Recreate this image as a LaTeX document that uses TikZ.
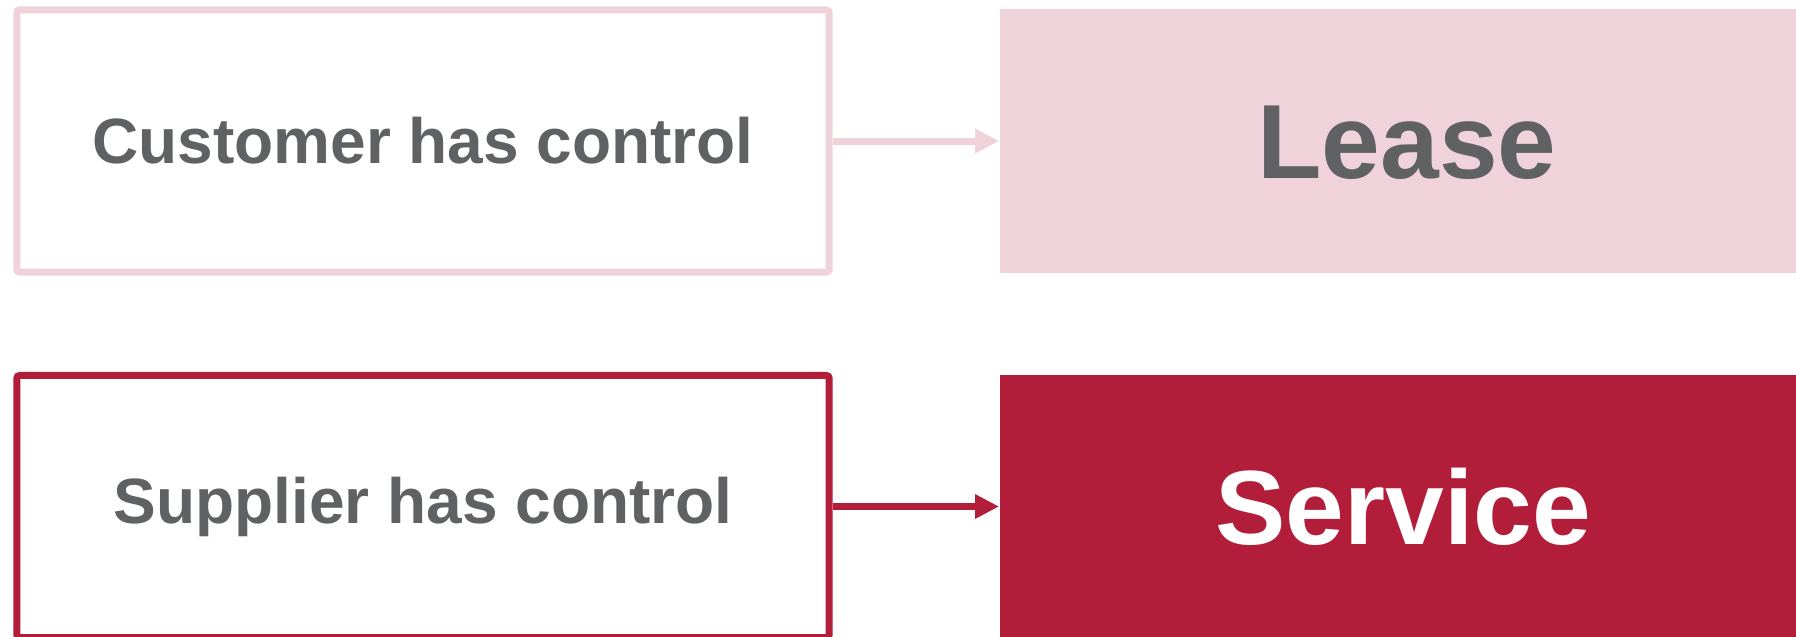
\documentclass[tikz,border=0pt]{standalone}
\usepackage{fontspec}
\setmainfont{Liberation Sans}
\usetikzlibrary{arrows.meta}
\definecolor{leasepink}{RGB}{240,211,218}
\definecolor{servicered}{RGB}{178,30,58}
\definecolor{textgrey}{RGB}{96,97,99}

\begin{document}
\begin{tikzpicture}[x=0.01cm, y=-0.01cm,
  ctrlbox/.style = {draw, line width=0.07cm, rounded corners=0.03cm, fill=white,
    minimum width=8.12cm, minimum height=2.62cm, inner sep=0pt,
    text=textgrey, font=\fontsize{18.2}{22}\selectfont\bfseries},
  resultbox/.style = {minimum width=8.14cm, minimum height=2.63cm, inner sep=0pt,
    text height=21.5pt, text depth=0pt,
    font=\fontsize{30}{36}\selectfont\bfseries},
  conn/.style = {line width=0.07cm, -{Triangle[length=0.24cm, width=0.23cm]}}]
\clip (0,0) rectangle (1796,636);
\fill[white] (0,0) rectangle (1796,636);

% top row
\node[ctrlbox, draw=leasepink] (customer) at (423,141) {Customer has control};
\node[resultbox, fill=leasepink, text=textgrey] (lease) at (1407,141) {Lease};
\draw[conn, leasepink] (customer.east) -- (lease.west);

% bottom row
\node[ctrlbox, draw=servicered] (supplier) at (423,506.5) {Supplier has control};
\node[resultbox, fill=servicered, text=white, minimum width=8.06cm] (service) at (1403,506.5) {Service};
\draw[conn, servicered] (supplier.east) -- (service.west);
\end{tikzpicture}
\end{document}
